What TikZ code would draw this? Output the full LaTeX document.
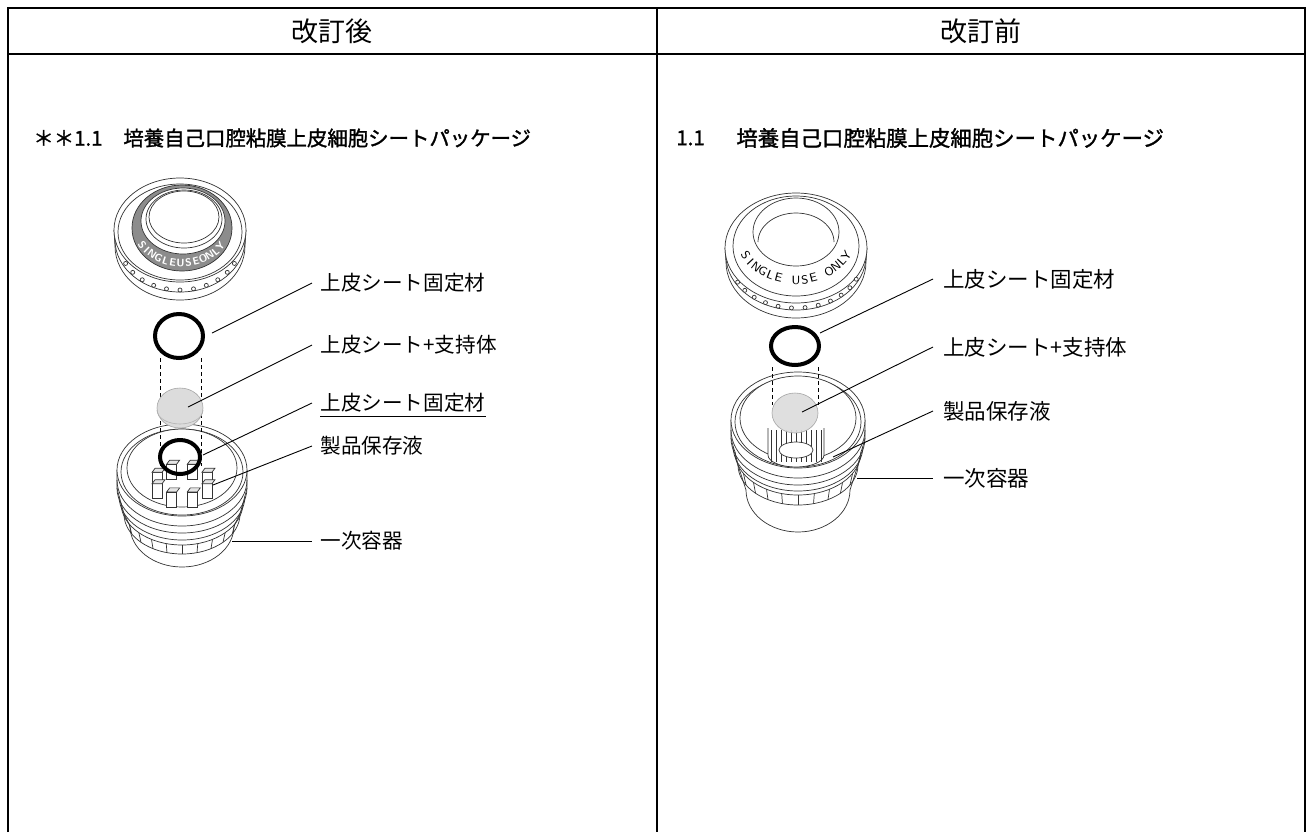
\documentclass[tikz,border=0pt]{standalone}
\usepackage{fontspec}
\newfontfamily\jp{Noto Sans CJK JP}
\newfontfamily\jptitle{Noto Sans CJK JP}[BoldFont={Noto Sans CJK JP}, BoldFeatures={FakeBold=1.4}]
\definecolor{bandgray}{HTML}{8C8C8C}
\definecolor{sheetgray}{HTML}{DCDCDC}
\begin{document}
\begin{tikzpicture}[x=0.5pt,y=-0.5pt,
  tableline/.style={line width=1pt},
  part/.style={line width=0.35pt, draw=black!80},
  ring/.style={line width=2pt},
  guide/.style={line width=0.35pt, dashed, dash pattern=on 2pt off 1.5pt},
  sheet/.style={fill=sheetgray, draw=black!35, line width=0.3pt},
  leader/.style={line width=0.45pt},
  head/.style={inner sep=0pt, font=\jp\fontsize{13.5}{15}\selectfont},
  title/.style={anchor=west, inner sep=0pt, font=\jptitle\bfseries\fontsize{10.2}{12}\selectfont},
  lab/.style={anchor=west, inner sep=0pt, font=\jp\fontsize{10.3}{12}\selectfont},
  rlab/.style={anchor=west, inner sep=0pt, font=\jp\fontsize{10.75}{12}\selectfont},
  capletter/.style={inner sep=0pt, font=\sffamily\bfseries\fontsize{5.3}{6}\selectfont}]
\useasboundingbox (0,0) rectangle (1308,832);
% table
\draw[tableline] (8,832) -- (8,8) -- (1305,8) -- (1305,832);
\draw[tableline] (8,54) -- (1305,54);
\draw[tableline] (657,8) -- (657,832);
\node[head] (hnew) at (332,31) {改訂後};
\node[head] (hold) at (981,31) {改訂前};
\node[title] (tnewnum) at (33,138) {＊＊1.1};
\node[title] (tnew) at (123,138) {培養自己口腔粘膜上皮細胞シートパッケージ};
\node[title] (toldnum) at (676,138) {1.1};
\node[title, font=\jptitle\bfseries\fontsize{10.7}{12}\selectfont] (told) at (736,138) {培養自己口腔粘膜上皮細胞シートパッケージ};

% ---- new: container
\draw[part] (117,470) -- (117,488) -- (119,496) -- (121,503) -- (124,514) -- (130,526);
\draw[part] (247,470) -- (247,488) -- (245,496) -- (243,503) -- (240,514) -- (234,526);
\foreach \cy/\rx/\ry in {480/65/46, 488/65/45, 496/63/44, 503/61/42, 514/58/40, 526/52/41}
  \draw[part] (182+\rx,\cy) arc [start angle=0, end angle=180, x radius=\rx, y radius=\ry];
\foreach \a in {30,45,...,150}
  \draw[part] ({182+61*cos(\a)},{503+42*sin(\a)}) -- ({182+58*cos(\a)},{514+40*sin(\a)});
\draw[part, fill=white] (182,470) ellipse [x radius=65, y radius=46];
\draw[part] (182,472) ellipse [x radius=61, y radius=43];
\draw[part, fill=white] (182,468) ellipse [x radius=55, y radius=39];
\foreach \a in {247.5,292.5,202.5,337.5,157.5,22.5,112.5,67.5} {
  \draw[part, fill=white] ({182+27*cos(\a)-5},{484+15*sin(\a)-6}) rectangle ++(10,15);
  \draw[part, fill=black!10] ({182+27*cos(\a)-5},{484+15*sin(\a)-6}) -- ++(3,-4) -- ++(10,0) -- ++(-3,4) -- cycle;
}
\draw[guide] (160,358) -- (160,466);
\draw[guide] (201,358) -- (201,466);
\draw[ring] (180,457) ellipse [x radius=20, y radius=17];
\draw[sheet] (180,408) ellipse [x radius=23, y radius=20];
\draw[black!30, line width=0.3pt] (157,410) arc [start angle=180, end angle=0, x radius=23, y radius=14];
\draw[ring] (179,336) ellipse [x radius=24, y radius=22];
% ---- new: cap
\draw[part] (114,230) -- (115,246) arc [start angle=180, end angle=0, x radius=65, y radius=54] -- (246,230);
\draw[part] (115,240) arc [start angle=180, end angle=0, x radius=65, y radius=52];
\draw[part, fill=white] (180,230) ellipse [x radius=66, y radius=52];
\foreach \a in {25,38,...,155}
  \draw[part, fill=white] ({180+60*cos(\a)},{244+46*sin(\a)}) circle [radius=2];
\draw[part] (180,232) ellipse [x radius=62, y radius=48];
\draw[part, fill=bandgray] (182,228) ellipse [x radius=50, y radius=43];
\draw[part, fill=white] (183,221) ellipse [x radius=42, y radius=33];
\draw[part] (184,219) ellipse [x radius=38, y radius=29];
\draw[part] (184,217) ellipse [x radius=35, y radius=26];
\foreach \ch [count=\i from 0] in {S,I,N,G,L,E,U,S,E,O,N,L,Y} {
  \pgfmathsetmacro\a{150-\i*9.7}
  \pgfmathsetmacro\rot{atan2(37*cos(\a),46*sin(\a))}
  \node[capletter, text=white, rotate=\rot] at ({182+46*cos(\a)},{226+37*sin(\a)}) {\ch};
}
% ---- new: labels
\node[lab] (l1) at (320,283) {上皮シート固定材};
\node[lab] (l2) at (320,345) {上皮シート+支持体};
\node[lab] (l3) at (320,403) {上皮シート固定材};
\node[lab] (l4) at (320,446) {製品保存液};
\node[lab] (l5) at (320,541) {一次容器};
\coordinate (lc1) at (212,333);
\coordinate (lc2) at (188,407);
\coordinate (lc3) at (203,455);
\coordinate (lc4) at (213,485);
\coordinate (lc5) at (232,541);
\draw[leader] (lc1) -- ([xshift=-4pt]l1.west);
\draw[leader] (lc2) -- ([xshift=-4pt]l2.west);
\draw[leader] (lc3) -- ([xshift=-4pt]l3.west);
\draw[leader] (lc4) -- ([xshift=-4pt]l4.west);
\draw[leader] (lc5) -- ([xshift=-4pt]l5.west);
\draw[leader] ([yshift=-2pt]l3.south west) -- ([yshift=-2pt]l3.south east);

% ---- old: container
\draw[part] (731,420) -- (731,438) -- (733,446) -- (735,452) -- (738,465) -- (746,490);
\draw[part] (865,420) -- (865,438) -- (863,446) -- (861,452) -- (858,465) -- (850,490);
\foreach \cy/\rx/\ry in {430/67/48, 438/67/47, 446/65/45, 452/63/43, 465/60/40, 490/52/42}
  \draw[part] (798+\rx,\cy) arc [start angle=0, end angle=180, x radius=\rx, y radius=\ry];
\foreach \a in {30,45,...,150}
  \draw[part] ({798+63*cos(\a)},{452+43*sin(\a)}) -- ({798+60*cos(\a)},{465+40*sin(\a)});
\draw[part, fill=white] (798,420) ellipse [x radius=67, y radius=48];
\draw[part] (798,422) ellipse [x radius=63, y radius=45];
\draw[part, fill=white] (798,418) ellipse [x radius=58, y radius=42];
\draw[part, fill=white] (768,428) -- (768,455) arc [start angle=180, end angle=0, x radius=28, y radius=12] -- (824,428);
\foreach \x in {771,776,...,821}
  \draw[part] (\x,430) -- (\x,462);
\draw[part, fill=white] (796,450) ellipse [x radius=17, y radius=8];
\draw[guide] (772,367) -- (772,405);
\draw[guide] (818,367) -- (818,405);
\draw[sheet, fill opacity=0.9] (795,413) ellipse [x radius=23, y radius=20];
\draw[ring] (795,346) ellipse [x radius=24, y radius=19];
% ---- old: cap
\draw[part] (725,248) -- (726,262) arc [start angle=180, end angle=0, x radius=70, y radius=56] -- (867,248);
\draw[part] (726,256) arc [start angle=180, end angle=0, x radius=70, y radius=54];
\draw[part, fill=white] (796,248) ellipse [x radius=71, y radius=55];
\foreach \a in {22,34,...,158}
  \draw[part, fill=white] ({796+65*cos(\a)},{262+46*sin(\a)}) circle [radius=2];
\draw[part] (796,246) ellipse [x radius=63, y radius=50];
\draw[part] (796,232) ellipse [x radius=43, y radius=34];
\draw[part] (758,242) arc [start angle=180, end angle=360, x radius=38, y radius=29];
\foreach \ch [count=\i from 0] in {S,I,N,G,L,E,{},U,S,E,{},O,N,L,Y} {
  \pgfmathsetmacro\a{152-\i*8.857}
  \pgfmathsetmacro\rot{atan2(46*cos(\a),57*sin(\a))}
  \node[capletter, font=\sffamily\fontsize{6}{6}\selectfont, rotate=\rot] at ({796+57*cos(\a)},{234+46*sin(\a)}) {\ch};
}
% ---- old: labels
\node[rlab] (r1) at (943,279) {上皮シート固定材};
\node[rlab] (r2) at (943,347) {上皮シート+支持体};
\node[rlab] (r3) at (943,411) {製品保存液};
\node[rlab] (r4) at (943,478) {一次容器};
\coordinate (rc1) at (820,333);
\coordinate (rc2) at (802,412);
\coordinate (rc3) at (833,457);
\coordinate (rc4) at (857,478);
\draw[leader] (rc1) -- ([xshift=-5pt]r1.west);
\draw[leader] (rc2) -- ([xshift=-5pt]r2.west);
\draw[leader] (rc3) -- ([xshift=-5pt]r3.west);
\draw[leader] (rc4) -- ([xshift=-5pt]r4.west);
\end{tikzpicture}
\end{document}
